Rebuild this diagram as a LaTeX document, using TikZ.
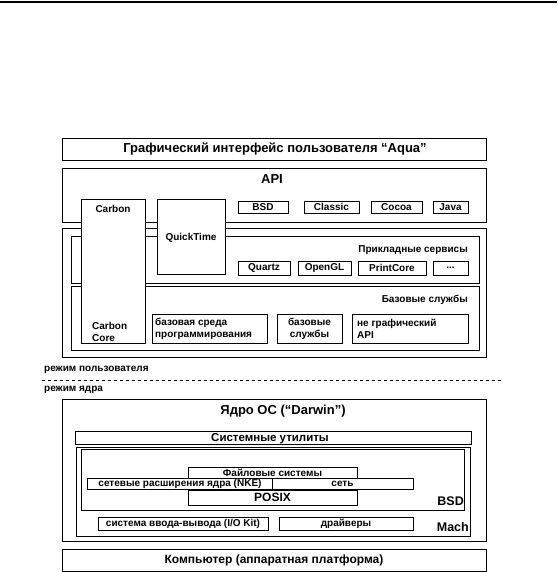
\documentclass[tikz,border=0pt]{standalone}
\usepackage{fontspec}
\setmainfont{Liberation Sans}

\begin{document}
\begin{tikzpicture}[x=1pt,y=-1pt,
  bx/.style={draw=black,line width=0.8pt},
  wbx/.style={draw=black,fill=white,line width=0.8pt},
  ttl/.style={font=\bfseries\fontsize{13}{14}\selectfont,inner sep=0pt},
  sub/.style={font=\bfseries\fontsize{12}{13}\selectfont,inner sep=0pt},
  lbl/.style={font=\bfseries\fontsize{10}{12}\selectfont,inner sep=0pt,align=left},
  big/.style={font=\bfseries\fontsize{12.5}{14}\selectfont,inner sep=0pt}]
\useasboundingbox (0,0) rectangle (557,572);

\path[draw=black,line width=1.5pt] (0,2) -- (557,2);

%aqua
\draw[bx] (62,138) rectangle (486,160);
\node[ttl] (aqua) at (275,149) {Графический интерфейс пользователя ``Aqua''};

%api
\draw[bx] (62,168) rectangle (486,222);
\node[ttl] (api) at (272,179) {API};
\draw[bx] (238,201) rectangle (288,213);
\node[lbl] (bsdapi) at (263,207) {BSD};
\draw[bx] (304,201) rectangle (359,213);
\node[lbl] (classic) at (331.5,207) {Classic};
\draw[bx] (371,201) rectangle (422,213);
\node[lbl] (cocoa) at (396.5,207) {Cocoa};
\draw[bx] (433,201) rectangle (468,213);
\node[lbl] (java) at (450.5,207) {Java};

%user services
\draw[bx] (62,228) rectangle (486,357);
\draw[bx] (71,236) rectangle (479,283);
\node[lbl,anchor=east] (appsrv) at (468,250) {Прикладные сервисы};
\draw[bx] (238,261) rectangle (290,275);
\node[lbl] (quartz) at (264,268) {Quartz};
\draw[bx] (298,261) rectangle (351,275);
\node[lbl] (opengl) at (324.5,268) {OpenGL};
\draw[bx] (358,261) rectangle (426,275);
\node[lbl] (printcore) at (392,268) {PrintCore};
\draw[bx] (433,261) rectangle (468,275);
\node[lbl] (dots) at (450.5,268) {...};

\draw[bx] (71,286) rectangle (479,350);
\node[lbl,anchor=east] (basesrv) at (468,300) {Базовые службы};
\draw[bx] (152,314) rectangle (267,343);
\node[lbl,anchor=west] (cf) at (155,328.5) {базовая среда\\программирования};
\draw[bx] (277,314) rectangle (342,343);
\node[lbl,align=center] (cs) at (309.5,328.5) {базовые\\службы};
\draw[bx] (352,314) rectangle (468,343);
\node[lbl,anchor=west] (ngapi) at (357,328.5) {не графический\\API};

%carbon, quicktime
\draw[wbx] (81,199) rectangle (145,343);
\node[lbl] (carbon) at (113,209) {Carbon};
\node[lbl,anchor=west] (ccore) at (92,332) {Carbon\\Core};
\draw[wbx] (157,199) rectangle (225,274);
\node[lbl] (qt) at (191,238) {QuickTime};

%modes
\node[lbl,anchor=west] (umode) at (44,370) {режим пользователя};
\path[draw=black,dashed,line width=0.6pt] (42,380) -- (503,380);
\node[lbl,anchor=west] (kmode) at (44,390) {режим ядра};

%darwin
\draw[bx] (62,399) rectangle (486,541);
\node[ttl] (darwin) at (283,411) {Ядро ОС (``Darwin'')};
\draw[bx] (75,431) rectangle (471,444);
\node[sub,font=\bfseries\fontsize{11.5}{13}\selectfont] (sysutil) at (270,438.5) {Системные утилиты};

\draw[bx] (76,447) rectangle (470,536);
\draw[bx] (81,449) rectangle (464,510);
\draw[bx] (188,467) rectangle (357,478);
\node[lbl] (fs) at (272.5,472.5) {Файловые системы};
\draw[bx] (87,478) rectangle (413,489);
\draw[bx] (272,478) -- (272,489);
\node[lbl] (nke) at (180,483.5) {сетевые расширения ядра (NKE)};
\node[lbl] (net) at (342.5,483.5) {сеть};
\draw[bx] (188,490) rectangle (357,505);
\node[sub] (posix) at (272.5,497.5) {POSIX};
\node[big,anchor=east] (bsdk) at (464,501) {BSD};

\draw[bx] (98,517) rectangle (268,530);
\node[lbl] (iokit) at (183,523.5) {система ввода-вывода (I/O Kit)};
\draw[bx] (279,517) rectangle (413,530);
\node[lbl] (drv) at (346,523.5) {драйверы};
\node[big,anchor=east] (mach) at (469,527) {Mach};

%hardware
\draw[bx] (62,549) rectangle (486,571);
\node[sub] (hw) at (274,560) {Компьютер (аппаратная платформа)};

\end{tikzpicture}
\end{document}
